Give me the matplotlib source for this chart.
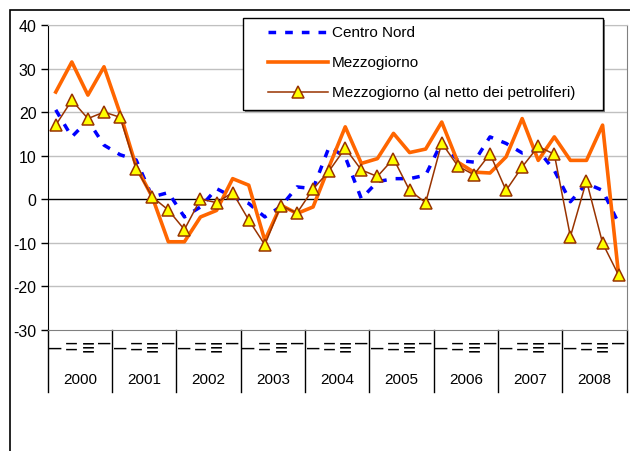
import matplotlib
matplotlib.use("Agg")
import matplotlib.pyplot as plt
from matplotlib.patches import Rectangle
from matplotlib.lines import Line2D
import matplotlib.transforms as mtransforms

plt.rcParams['font.family'] = ['Liberation Sans', 'DejaVu Sans']
plt.rcParams['axes.unicode_minus'] = False

# data: quarterly values 2000-2008
years = ['2000', '2001', '2002', '2003', '2004', '2005', '2006', '2007', '2008']
quarters = ['\u2013', '=', '\u2261', '\u2013']

centro_nord = [20.5, 14.3, 18.1, 12.4, 10.2, 9.0,
               0.5, 1.5, -4.1, -1.8, 2.4, 0.5,
               -1.0, -4.1, -1.7, 2.8, 2.4, 12.0,
               9.7, 0.1, 4.0, 4.7, 4.7, 5.5,
               13.1, 8.9, 8.5, 14.3, 12.8, 10.6,
               11.2, 6.6, -0.6, 3.6, 2.0, -5.6]
mezzogiorno = [24.6, 31.5, 23.9, 30.4, 19.7, 7.5,
               0.5, -9.8, -9.8, -4.1, -2.6, 4.7,
               3.2, -9.5, -1.4, -3.3, -1.8, 7.5,
               16.6, 8.2, 9.3, 15.1, 10.7, 11.5,
               17.7, 8.5, 6.2, 6.0, 9.7, 18.5,
               8.9, 14.3, 8.9, 8.9, 17.0, -17.5]
mezz_netto = [17.0, 22.7, 18.5, 20.0, 18.8, 7.0,
              0.5, -2.5, -7.0, 0.0, -0.8, 1.5,
              -4.8, -10.5, -1.5, -3.2, 2.3, 6.5,
              11.7, 6.7, 5.2, 9.3, 2.0, -0.8,
              12.9, 7.6, 5.6, 10.4, 2.0, 7.4,
              12.1, 10.3, -8.6, 4.2, -10.1, -17.5]
labels = ['Centro Nord', 'Mezzogiorno', 'Mezzogiorno (al netto dei petroliferi)']

x = list(range(len(centro_nord)))

W, H = 630, 452
fig = plt.figure(figsize=(W / 100, H / 100), dpi=100)
fig.patch.set_facecolor('white')

# outer frame
fig.add_artist(Rectangle((10 / W, -0.1), 1.0, 1 - 11 / H + 0.1, transform=fig.transFigure,
                         fill=False, edgecolor='black', linewidth=1.2))

left, right, top, bottom = 47.7, 626.7, 26.0, 330.7
ax = fig.add_axes([left / W, 1 - bottom / H, (right - left) / W, (bottom - top) / H])

styles = [
    dict(color='#0000FF', linewidth=2.5, linestyle=(0, (2.2, 2.6)), zorder=3),
    dict(color='#FF6600', linewidth=2.6, zorder=4),
    dict(color='#993300', linewidth=1.1, marker='^', markersize=8,
         markerfacecolor='#FFFF00', markeredgecolor='#993300', markeredgewidth=1.1, zorder=5),
]
for vals, st in zip([centro_nord, mezzogiorno, mezz_netto], styles):
    ax.plot(x, vals, **st)

ax.set_xlim(-0.5, len(x) - 0.5)
ax.set_ylim(-30, 40)
ax.set_yticks(range(-30, 41, 10))
ax.tick_params(axis='y', direction='out', length=5, width=1, labelsize=11.5, pad=3)
ax.set_xticks([])
for v in range(-20, 41, 10):
    if v != 0:
        ax.axhline(v, color='#C0C0C0', linewidth=1, zorder=1)
ax.axhline(0, color='black', linewidth=1, zorder=2)

ax.spines['left'].set_color('black')
ax.spines['bottom'].set_color('#808080')
ax.spines['right'].set_color('#808080')
ax.spines['top'].set_color('#C0C0C0')

# category axis: quarters and years
trans = mtransforms.blended_transform_factory(ax.transData, ax.transAxes)
axh = bottom - top
sep_depth = (393 - bottom) / axh
for i in range(len(x)):
    q = quarters[i % 4]
    ypix = 343.5 if i % 4 == 3 else 348.5
    ax.text(i, -(ypix - bottom) / axh, q, transform=trans, ha='center', va='center',
            fontsize=16, clip_on=False)
for k, yr in enumerate(years):
    ax.text(4 * k + 1.5, -(380 - bottom) / axh, yr, transform=trans, ha='center',
            va='center', fontsize=11, clip_on=False)
for k in range(len(years) + 1):
    xp = 4 * k - 0.5
    ax.add_line(Line2D([xp, xp], [0, -sep_depth], transform=trans, color='black',
                       linewidth=1, clip_on=False))

# legend box drawn in figure pixels
def fx(px):
    return px / W

def fy(py):
    return 1 - py / H

fig.add_artist(Rectangle((fx(245), fy(113)), (603 - 243) / W, (111 - 19) / H,
                         transform=fig.transFigure, facecolor='#808080',
                         edgecolor='none', zorder=9))
fig.add_artist(Rectangle((fx(243), fy(111)), (603 - 243) / W, (111 - 19) / H,
                         transform=fig.transFigure, facecolor='white',
                         edgecolor='black', linewidth=1, zorder=10))
for row, (lab, st) in enumerate(zip(labels, styles)):
    yy = fy(33 + 30 * row)
    st2 = {k: v for k, v in st.items() if k not in ('marker', 'zorder')}
    fig.add_artist(Line2D([fx(268), fx(328)], [yy, yy], transform=fig.transFigure,
                          zorder=11, **st2))
    if 'marker' in st:
        fig.add_artist(Line2D([fx(298)], [yy], transform=fig.transFigure, zorder=12,
                              marker='^', markersize=8, markerfacecolor='#FFFF00',
                              markeredgecolor='#993300', markeredgewidth=1.1,
                              linestyle='none'))
    fig.text(fx(332), yy, lab, ha='left', va='center', fontsize=11, zorder=12)

fig.savefig('out.png', dpi=100)
